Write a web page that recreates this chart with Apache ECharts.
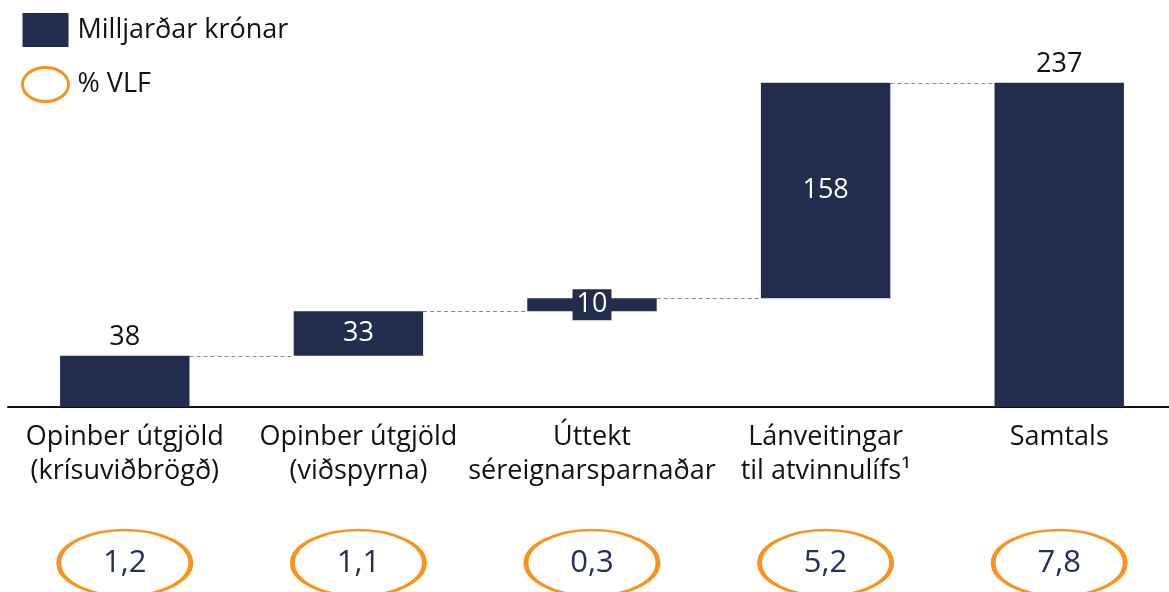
<!DOCTYPE html>
<html>
<head>
<meta charset="utf-8">
<script src="https://cdn.jsdelivr.net/npm/echarts@6/dist/echarts.min.js"></script>
<style>
  html, body { margin: 0; padding: 0; background: #fff; overflow: hidden; }
  /* a few px wider than the window so the last band runs off the right edge, as in the source */
  #chart { width: 1176px; height: 592px; }
</style>
</head>
<body>
<div id="chart"></div>
<script>
// categories and values
const categories = [
  'Opinber útgjöld\n(krísuviðbrögð)',
  'Opinber útgjöld\n(viðspyrna)',
  'Úttekt\nséreignarsparnaðar',
  'Lánveitingar\ntil atvinnulífs¹',
  'Samtals',
]
// step sizes in billions of krónur (rounded labels: 38, 33, 10, 158)
const steps = [37.5, 32.5, 9.5, 157.5]
// share of GDP, %
const pctGdp = [1.2, 1.1, 0.3, 5.2, 7.8]

const NAVY = '#222d4e'
const ORANGE = '#f7931e'
const FONT = '"Open Sans", Lato, sans-serif'
const BAR_RATIO = 0.554
const ELLIPSE = 'path://M0,50 C0,22.4 22.4,0 50,0 C77.6,0 100,22.4 100,50 C100,77.6 77.6,100 50,100 C22.4,100 0,77.6 0,50 Z'

const total = steps.reduce((a, b) => a + b, 0)
const bases = []
let running = 0
steps.forEach((s) => { bases.push(running); running += s })
bases.push(0)
const heights = steps.concat([total])
const levels = steps.map((_, i) => bases[i] + steps[i])

const labelStyles = [
  { show: true, position: 'top', distance: 5, color: '#111' },
  { show: true, position: 'inside', color: '#fff' },
  { show: true, position: 'inside', color: '#fff', backgroundColor: NAVY, padding: [3, 4, 1, 4] },
  { show: true, position: 'inside', color: '#fff' },
  { show: true, position: 'top', distance: 5, color: '#111' },
]

const chart = echarts.init(document.getElementById('chart'), null, { renderer: 'canvas' })

chart.setOption({
  animation: false,
  backgroundColor: '#fff',
  textStyle: { fontFamily: FONT },
  legend: {
    orient: 'vertical',
    left: 21,
    top: 13,
    padding: 0,
    itemWidth: 46,
    itemHeight: 34,
    itemGap: 19,
    symbolKeepAspect: false,
    textStyle: { fontSize: 27, color: '#111', fontFamily: FONT, padding: [9, 0, 0, 4] },
    data: [
      { name: 'Milljarðar krónar', icon: 'rect' },
      { name: '% VLF', icon: ELLIPSE, itemStyle: { color: 'transparent', borderColor: ORANGE, borderWidth: 3 } },
    ],
  },
  grid: [
    { left: 8, right: 0, top: 17, bottom: 185 },
    { left: 8, right: 0, top: 534, height: 68 },
  ],
  xAxis: [
    {
      type: 'category',
      gridIndex: 0,
      data: categories,
      axisLine: { lineStyle: { color: '#111', width: 2 } },
      axisTick: { show: false },
      axisLabel: {
        interval: 0,
        margin: 13,
        fontSize: 27,
        lineHeight: 34,
        color: '#111',
        fontFamily: FONT,
      },
    },
    {
      type: 'category',
      gridIndex: 1,
      data: categories,
      show: false,
    },
  ],
  yAxis: [
    { type: 'value', gridIndex: 0, min: 0, max: 285, show: false },
    { type: 'value', gridIndex: 1, min: 0, max: 1, show: false },
  ],
  series: [
    {
      name: 'base',
      type: 'bar',
      stack: 'w',
      silent: true,
      barWidth: BAR_RATIO * 100 + '%',
      itemStyle: { color: 'transparent' },
      data: bases,
    },
    {
      name: 'Milljarðar krónar',
      type: 'bar',
      stack: 'w',
      barWidth: BAR_RATIO * 100 + '%',
      itemStyle: { color: NAVY },
      label: { fontSize: 27, fontFamily: FONT },
      data: heights.map((h, i) => ({
        value: h,
        label: Object.assign({ formatter: () => String(Math.round(h)) }, labelStyles[i]),
      })),
    },
    {
      name: 'connectors',
      type: 'custom',
      silent: true,
      z: 1,
      data: levels.map((v, i) => [i, v]),
      renderItem: (params, api) => {
        const pt = api.coord([api.value(0), api.value(1)])
        const band = api.size([1, 0])[0]
        const bw = band * BAR_RATIO
        const y = Math.round(pt[1]) + 0.5
        return {
          type: 'line',
          shape: { x1: pt[0] + bw / 2, y1: y, x2: pt[0] + band - bw / 2, y2: y },
          style: { stroke: '#8a8a8a', lineWidth: 1, lineDash: [4, 3] },
        }
      },
    },
    {
      name: '% VLF',
      type: 'scatter',
      xAxisIndex: 1,
      yAxisIndex: 1,
      symbol: ELLIPSE,
      symbolSize: [132, 66],
      itemStyle: { color: 'transparent', borderColor: ORANGE, borderWidth: 3.5, opacity: 1 },
      label: {
        show: true,
        position: 'inside',
        fontSize: 31,
        color: '#24305a',
        fontFamily: FONT,
        formatter: (p) => p.value[2].toFixed(1).replace('.', ','),
      },
      data: pctGdp.map((v, i) => [i, 0.5, v]),
    },
  ],
})
</script>
</body>
</html>
